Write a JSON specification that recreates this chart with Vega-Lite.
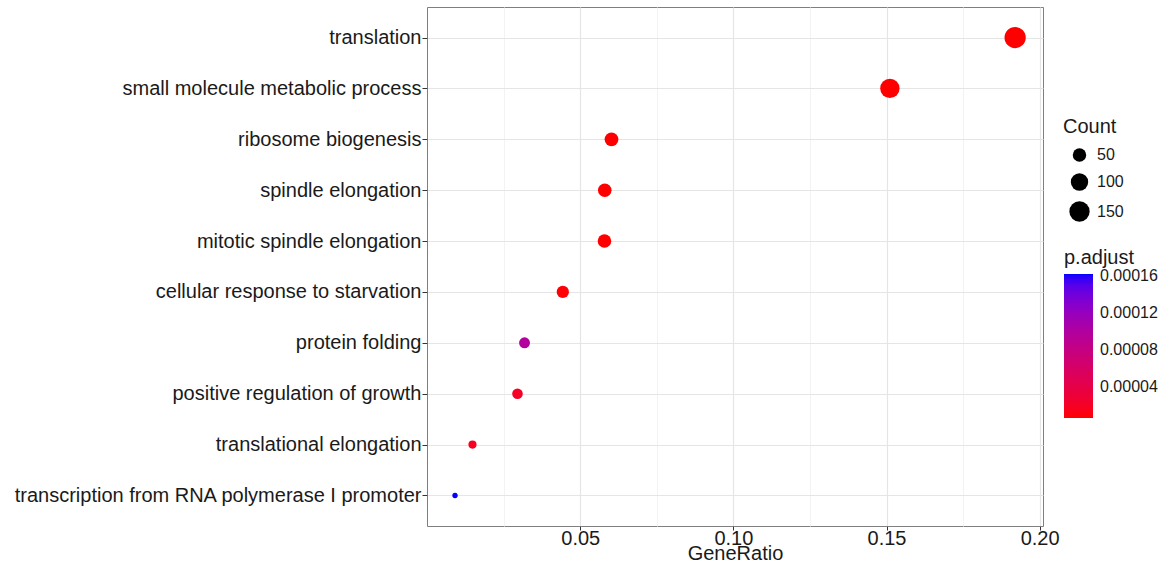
{
  "$schema": "https://vega.github.io/schema/vega-lite/v6.json",
  "width": 616,
  "height": 519,
  "padding": {"left": 12, "top": 7, "right": 0, "bottom": 0},
  "config": {
    "font": "Liberation Sans",
    "view": {"stroke": "#7f7f7f", "strokeWidth": 1},
    "axis": {"domain": false}
  },
  "data": {
    "values": [
      {"Description": "translation", "GeneRatio": 0.1920, "Count": 169, "padjust": 0.0000065},
      {"Description": "small molecule metabolic process", "GeneRatio": 0.1511, "Count": 133, "padjust": 0.0000065},
      {"Description": "ribosome biogenesis", "GeneRatio": 0.0602, "Count": 53, "padjust": 0.0000066},
      {"Description": "spindle elongation", "GeneRatio": 0.0580, "Count": 51, "padjust": 0.0000068},
      {"Description": "mitotic spindle elongation", "GeneRatio": 0.0579, "Count": 51, "padjust": 0.0000068},
      {"Description": "cellular response to starvation", "GeneRatio": 0.0443, "Count": 39, "padjust": 0.0000080},
      {"Description": "protein folding", "GeneRatio": 0.0318, "Count": 28, "padjust": 0.000098},
      {"Description": "positive regulation of growth", "GeneRatio": 0.0295, "Count": 26, "padjust": 0.000020},
      {"Description": "translational elongation", "GeneRatio": 0.0148, "Count": 13, "padjust": 0.000018},
      {"Description": "transcription from RNA polymerase I promoter", "GeneRatio": 0.0091, "Count": 8, "padjust": 0.000162}
    ]
  },
  "layer": [
    {
      "mark": {"type": "point", "opacity": 0},
      "encoding": {
        "x": {
          "field": "GeneRatio", "type": "quantitative",
          "axis": {"orient": "bottom", "values": [0.025, 0.075, 0.125, 0.175], "labels": false, "ticks": false, "domain": false, "title": null, "grid": true, "gridColor": "#f3f3f3", "gridWidth": 1}
        },
        "y": {"field": "Description", "type": "nominal", "sort": {"field": "GeneRatio", "order": "descending"}}
      }
    },
    {
      "mark": {"type": "circle", "opacity": 1},
      "encoding": {
        "x": {
          "field": "GeneRatio", "type": "quantitative",
          "scale": {"domain": [-0.00005, 0.2011], "nice": false, "zero": false},
          "axis": {
            "orient": "bottom",
            "values": [0.05, 0.10, 0.15, 0.20], "format": ".2f",
            "grid": true, "gridColor": "#e5e5e5", "gridWidth": 1.2,
            "ticks": true, "tickColor": "#333333", "tickSize": 4,
            "labelFontSize": 20, "labelColor": "#1a1a1a", "labelPadding": -2,
            "title": "GeneRatio", "titleFontSize": 20, "titleFontWeight": "normal", "titleColor": "#1a1a1a", "titlePadding": -5
          }
        },
        "y": {
          "field": "Description", "type": "nominal",
          "sort": {"field": "GeneRatio", "order": "descending"},
          "scale": {"type": "point", "padding": 0.6},
          "axis": {
            "title": null, "grid": true, "gridColor": "#e5e5e5", "gridWidth": 1.2,
            "ticks": true, "tickColor": "#333333", "tickSize": 5,
            "labelFontSize": 20, "labelColor": "#1a1a1a", "labelPadding": 1, "labelLimit": 0,
            "minExtent": 415, "maxExtent": 415
          }
        },
        "size": {
          "field": "Count", "type": "quantitative", "title": "Count",
          "scale": {
            "domain": [8, 13, 20, 30, 40, 55, 75, 100, 130, 169],
            "range": [28.3, 66.0, 93.5, 125.7, 154.4, 194.3, 243.6, 302.0, 368.8, 452.4]
          },
          "legend": {
            "orient": "none", "legendX": 636, "legendY": 110, "padding": 0,
            "values": [50, 100, 150],
            "symbolType": "circle", "symbolFillColor": "black", "symbolStrokeWidth": 0, "symbolOpacity": 1,
            "titleFontSize": 20, "titleFontWeight": "normal", "titleColor": "#1a1a1a", "titlePadding": 10,
            "labelFontSize": 16, "labelColor": "#1a1a1a", "labelOffset": 7, "symbolOffset": 6, "rowPadding": 10
          }
        },
        "color": {
          "field": "padjust", "type": "quantitative", "title": "p.adjust",
          "scale": {"range": ["#ff0000", "#0000ff"], "interpolate": "lab", "nice": false, "zero": false},
          "legend": {
            "orient": "none", "legendX": 637, "legendY": 241, "padding": 0,
            "direction": "vertical",
            "values": [0.00004, 0.00008, 0.00012, 0.00016], "format": ".5f",
            "gradientLength": 144, "gradientThickness": 29, "gradientStrokeWidth": 0,
            "titleFontSize": 20, "titleFontWeight": "normal", "titleColor": "#1a1a1a", "titlePadding": 6,
            "labelFontSize": 16, "labelColor": "#1a1a1a", "labelOffset": 7
          }
        }
      }
    }
  ],
  "resolve": {"axis": {"x": "independent"}}
}
